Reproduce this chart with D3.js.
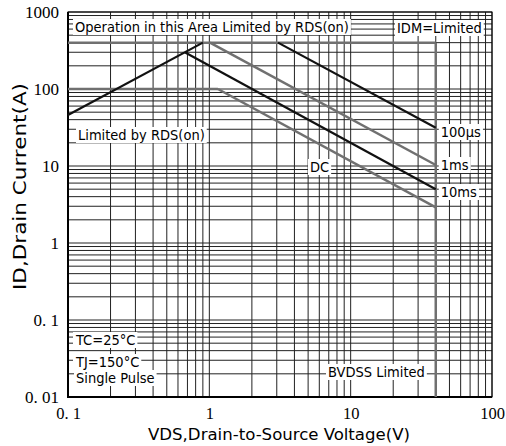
<!DOCTYPE html>
<html><head><meta charset="utf-8">
<script src="https://cdn.jsdelivr.net/npm/d3@7"></script>
<style>
html,body{margin:0;padding:0;background:#fff;}
svg{display:block;}
</style></head>
<body>
<svg id="chart" width="506" height="446"></svg>
<script>
// ---- data ----
const xTickValues = [0.1, 1, 10, 100];
const xTickLabels = ["0. 1", "1", "10", "100"];
const yTickValues = [0.01, 0.1, 1, 10, 100, 1000];
const yTickLabels = ["0. 01", "0. 1", "1", "10", "100", "1000"];

const rdsLimit   = [[0.1, 46], [0.9, 400]];
const idmLimit   = [[0.1, 400], [40, 400]];
const dcCurLimit = [[0.1, 100], [1.15, 100]];
const pulse100us = [[3.06, 400], [40, 31.4]];
const pulse1ms   = [[1.01, 400], [40, 10.3]];
const pulse10ms  = [[0.67, 300], [40, 5.0]];
const dcLine     = [[1.15, 100], [40, 2.9]];
const bvdssLimit = [[40, 400], [40, 0.01]];

const labelFont = "'DejaVu Sans Condensed','DejaVu Sans',sans-serif";
const tickFont = "'Liberation Serif','DejaVu Serif',serif";

// ---- layout ----
const svg = d3.select("#chart");
const L = 68, R = 492, T = 12, B = 397;
const x = d3.scaleLog().domain([0.1, 100]).range([L, R]);
const y = d3.scaleLog().domain([0.01, 1000]).range([B, T]);

// grid
const grid = svg.append("g");
const gridVals = [];
for (let e = -2; e < 3; e++) for (let m = 1; m <= 9; m++) gridVals.push(m * Math.pow(10, e));
gridVals.push(1000);
const gridX = [];
for (let e = -1; e < 2; e++) for (let m = 1; m <= 9; m++) gridX.push(m * Math.pow(10, e));
gridX.push(100);
grid.selectAll(".gx").data(gridX).join("line")
  .attr("x1", d => x(d)).attr("x2", d => x(d)).attr("y1", T).attr("y2", B)
  .attr("stroke", "#222").attr("stroke-width", 1);
grid.selectAll(".gy").data(gridVals).join("line")
  .attr("y1", d => y(d)).attr("y2", d => y(d)).attr("x1", L).attr("x2", R)
  .attr("stroke", "#222").attr("stroke-width", 1);

// frame
svg.append("rect").attr("x", L).attr("y", T).attr("width", R - L).attr("height", B - T)
  .attr("fill", "none").attr("stroke", "#000").attr("stroke-width", 1);
svg.append("line").attr("x1", L).attr("x2", L).attr("y1", T).attr("y2", B + 1)
  .attr("stroke", "#000").attr("stroke-width", 2);
svg.append("line").attr("x1", L - 1).attr("x2", R).attr("y1", B).attr("y2", B)
  .attr("stroke", "#000").attr("stroke-width", 2);

// axes (labels only)
const xAxis = d3.axisBottom(x).tickValues(xTickValues).tickSize(0)
  .tickFormat((d, i) => xTickLabels[i]);
const gx = svg.append("g").attr("transform", `translate(0,${B})`).call(xAxis);
gx.select(".domain").remove();
gx.selectAll("text").attr("font-family", tickFont).attr("font-size", 16.5)
  .attr("fill", "#000").attr("dy", "1.15em");
const yAxis = d3.axisLeft(y).tickValues(yTickValues).tickSize(0)
  .tickFormat((d, i) => yTickLabels[i]);
const gy = svg.append("g").attr("transform", `translate(${L - 6},0)`).call(yAxis);
gy.select(".domain").remove();
gy.selectAll("text").attr("font-family", tickFont).attr("font-size", 17)
  .attr("fill", "#000").attr("dy", "0.35em");

// curves
const line = d3.line().x(d => x(d[0])).y(d => y(d[1]));
const gray = "#707070", black = "#111";
const series = [
  [idmLimit, gray, 2.5], [dcCurLimit, gray, 2.5], [bvdssLimit, gray, 2.5],
  [pulse1ms, gray, 2.5], [dcLine, gray, 2.5],
  [rdsLimit, black, 2.2], [pulse100us, black, 2.2], [pulse10ms, black, 2.2]
];
series.forEach(([data, col, w]) => {
  svg.append("path").datum(data).attr("d", line)
    .attr("fill", "none").attr("stroke", col).attr("stroke-width", w);
});

// annotations
function label(txt, px, py, size) {
  const g = svg.append("g");
  const r = g.append("rect").attr("fill", "#fff");
  const t = g.append("text").attr("x", px).attr("y", py).text(txt)
    .attr("font-family", labelFont).attr("font-size", size || 14.5).attr("fill", "#000");
  const bb = t.node().getBBox();
  r.attr("x", bb.x - 2).attr("y", bb.y).attr("width", bb.width + 4).attr("height", bb.height);
  return t;
}
label("Operation in this Area Limited by RDS(on)", 75, 32);
label("IDM=Limited", 397, 33);
label("Limited by RDS(on)", 78, 140);
label("100µs", x(40) + 5, 137);
label("1ms", x(40) + 5, 170);
label("10ms", x(40) + 5, 197);
label("DC", 310, 172);
label("TC=25°C", 76, 345);
label("TJ=150°C", 76, 367);
label("Single Pulse", 76, 383);
label("BVDSS Limited", 328, 377);

// axis titles
svg.append("text").attr("x", 148).attr("y", 440)
  .attr("textLength", 262).attr("lengthAdjust", "spacingAndGlyphs")
  .attr("font-family", labelFont).attr("font-size", 16.5).attr("fill", "#000")
  .text("VDS,Drain-to-Source Voltage(V)");
svg.append("text").attr("transform", `translate(26,290) rotate(-90)`)
  .attr("textLength", 207).attr("lengthAdjust", "spacingAndGlyphs")
  .attr("font-family", labelFont).attr("font-size", 17.5).attr("fill", "#000")
  .text("ID,Drain Current(A)");
</script>
</body></html>
